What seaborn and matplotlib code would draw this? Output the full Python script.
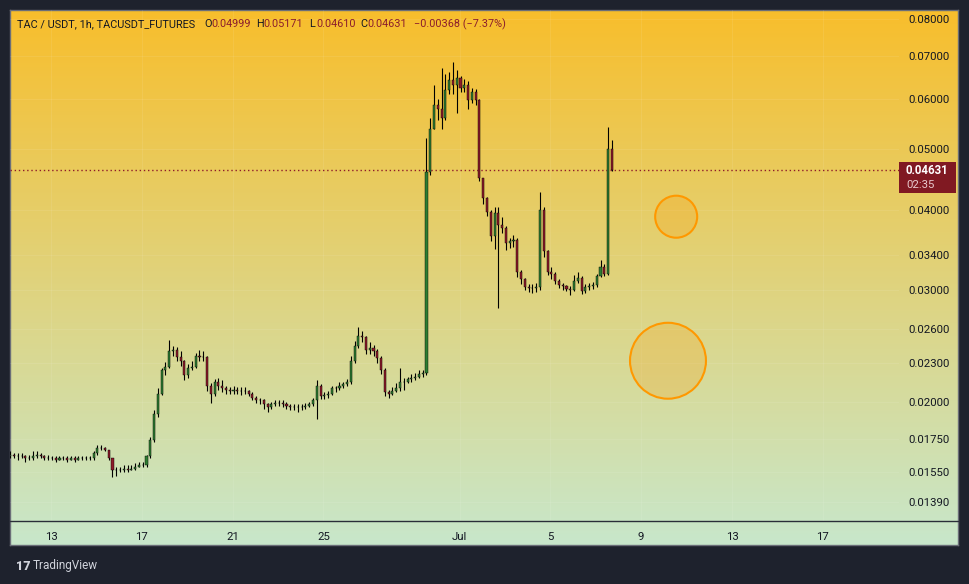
import numpy as np
import pandas as pd
import matplotlib
matplotlib.use("Agg")
import matplotlib.pyplot as plt
import matplotlib.dates as mdates
from matplotlib.patches import Rectangle
from matplotlib.lines import Line2D
import seaborn as sns

# 4h candles (open = previous close)
first_open = 0.0164
closes = [
    0.0165, 0.0164, 0.0164, 0.0164, 0.0163, 0.0163, 0.0164, 0.0165, 0.0164, 0.0163,
    0.0163, 0.0163, 0.0162, 0.0163, 0.0163, 0.0162, 0.0163, 0.0162, 0.0163, 0.0163,
    0.0163, 0.0163, 0.0166, 0.0169, 0.0169, 0.0168, 0.0163, 0.0156, 0.0156, 0.0156,
    0.0157, 0.0156, 0.0157, 0.0158, 0.0159, 0.0159, 0.0164, 0.0174, 0.0191, 0.0206,
    0.0224, 0.0227, 0.0240, 0.0241, 0.0235, 0.0232, 0.0220, 0.0226, 0.0227, 0.0236,
    0.0235, 0.0235, 0.0212, 0.0206, 0.0215, 0.0212, 0.0210, 0.0209, 0.0208, 0.0209,
    0.0208, 0.0208, 0.0208, 0.0206, 0.0203, 0.0201, 0.0201, 0.0198, 0.0196, 0.0198,
    0.0199, 0.0199, 0.0198, 0.0197, 0.0196, 0.0196, 0.0196, 0.0196, 0.0197, 0.0198,
    0.0201, 0.0212, 0.0204, 0.0205, 0.0206, 0.0210, 0.0210, 0.0212, 0.0213, 0.0215,
    0.0232, 0.0245, 0.0254, 0.0253, 0.0241, 0.0243, 0.0240, 0.0234, 0.0224, 0.0207,
    0.0206, 0.0208, 0.0210, 0.0215, 0.0215, 0.0217, 0.0218, 0.0219, 0.0221, 0.0222,
    0.0460, 0.0537, 0.0587, 0.0577, 0.0559, 0.0618, 0.0642, 0.0630, 0.0647, 0.0623,
    0.0630, 0.0597, 0.0615, 0.0597, 0.0450, 0.0419, 0.0398, 0.0364, 0.0396, 0.0379,
    0.0375, 0.0355, 0.0358, 0.0360, 0.0320, 0.0312, 0.0303, 0.0302, 0.0302, 0.0303,
    0.0400, 0.0345, 0.0320, 0.0318, 0.0310, 0.0305, 0.0304, 0.0301, 0.0300, 0.0310,
    0.0313, 0.0299, 0.0303, 0.0304, 0.0305, 0.0315, 0.0326, 0.0318, 0.04999, 0.04631,
]
highs = [
    0.0167, 0.0166, 0.0166, 0.0166, 0.0165, 0.0165, 0.0167, 0.0167, 0.0166, 0.0165,
    0.0165, 0.0164, 0.0164, 0.0164, 0.0164, 0.0164, 0.0164, 0.0164, 0.0164, 0.0164,
    0.0164, 0.0164, 0.0167, 0.0171, 0.0171, 0.0170, 0.0168, 0.0163, 0.0158, 0.0158,
    0.0159, 0.0159, 0.0159, 0.0160, 0.0161, 0.0161, 0.0165, 0.0176, 0.0194, 0.0210,
    0.0226, 0.0231, 0.0250, 0.0245, 0.0244, 0.0240, 0.0233, 0.0229, 0.0232, 0.0239,
    0.0241, 0.0240, 0.0236, 0.0214, 0.0217, 0.0218, 0.0216, 0.0212, 0.0211, 0.0212,
    0.0211, 0.0211, 0.0211, 0.0209, 0.0207, 0.0204, 0.0203, 0.0202, 0.0199, 0.0200,
    0.0201, 0.0201, 0.0201, 0.0200, 0.0198, 0.0198, 0.0198, 0.0198, 0.0199, 0.0200,
    0.0203, 0.0216, 0.0213, 0.0207, 0.0208, 0.0212, 0.0212, 0.0215, 0.0215, 0.0217,
    0.0236, 0.0249, 0.0262, 0.0258, 0.0254, 0.0248, 0.0246, 0.0242, 0.0236, 0.0226,
    0.0209, 0.0211, 0.0214, 0.0226, 0.0218, 0.0219, 0.0221, 0.0222, 0.0224, 0.0224,
    0.0520, 0.0560, 0.0630, 0.0600, 0.0670, 0.0656, 0.0660, 0.0686, 0.0665, 0.0650,
    0.0645, 0.0640, 0.0623, 0.0620, 0.0600, 0.0450, 0.0420, 0.0400, 0.0405, 0.0405,
    0.0390, 0.0378, 0.0362, 0.0366, 0.0362, 0.0322, 0.0313, 0.0306, 0.0306, 0.0307,
    0.0427, 0.0405, 0.0347, 0.0326, 0.0320, 0.0312, 0.0308, 0.0305, 0.0304, 0.0316,
    0.0320, 0.0315, 0.0306, 0.0308, 0.0309, 0.0318, 0.0334, 0.0330, 0.0542, 0.05171,
]
lows = [
    0.0163, 0.0163, 0.0162, 0.0163, 0.0161, 0.0162, 0.0162, 0.0163, 0.0163, 0.0162,
    0.0162, 0.0162, 0.0161, 0.0162, 0.0162, 0.0161, 0.0162, 0.0161, 0.0162, 0.0162,
    0.0162, 0.0162, 0.0162, 0.0165, 0.0168, 0.0167, 0.0162, 0.0152, 0.0153, 0.0155,
    0.0155, 0.0155, 0.0156, 0.0156, 0.0158, 0.0158, 0.0158, 0.0163, 0.0173, 0.0189,
    0.0205, 0.0220, 0.0226, 0.0236, 0.0232, 0.0228, 0.0216, 0.0218, 0.0224, 0.0226,
    0.0232, 0.0232, 0.0208, 0.0199, 0.0204, 0.0209, 0.0207, 0.0206, 0.0206, 0.0206,
    0.0206, 0.0205, 0.0206, 0.0204, 0.0201, 0.0199, 0.0198, 0.0195, 0.0193, 0.0195,
    0.0197, 0.0197, 0.0196, 0.0195, 0.0194, 0.0194, 0.0193, 0.0194, 0.0195, 0.0196,
    0.0197, 0.0188, 0.0202, 0.0202, 0.0203, 0.0205, 0.0207, 0.0209, 0.0210, 0.0212,
    0.0213, 0.0230, 0.0243, 0.0248, 0.0238, 0.0238, 0.0236, 0.0230, 0.0221, 0.0204,
    0.0203, 0.0205, 0.0207, 0.0208, 0.0209, 0.0214, 0.0215, 0.0216, 0.0218, 0.0219,
    0.0220, 0.0455, 0.0537, 0.0555, 0.0537, 0.0555, 0.0610, 0.0610, 0.0570, 0.0615,
    0.0615, 0.0577, 0.0590, 0.0587, 0.0445, 0.0410, 0.0392, 0.0358, 0.0348, 0.0281,
    0.0368, 0.0347, 0.0349, 0.0350, 0.0314, 0.0306, 0.0300, 0.0298, 0.0297, 0.0298,
    0.0300, 0.0338, 0.0317, 0.0312, 0.0306, 0.0302, 0.0300, 0.0299, 0.0294, 0.0299,
    0.0307, 0.0296, 0.0297, 0.0300, 0.0301, 0.0303, 0.0314, 0.0315, 0.0316, 0.0461,
]
first_candle = "2025-06-11 05:00"

price_ticks = [0.08, 0.07, 0.06, 0.05, 0.04, 0.034, 0.03, 0.026, 0.023, 0.02, 0.0175, 0.0155, 0.0139]
price_labels = ["0.08000", "0.07000", "0.06000", "0.05000", "0.04000", "0.03400", "0.03000",
                "0.02600", "0.02300", "0.02000", "0.01750", "0.01550", "0.01390"]
date_ticks = ["2025-06-13", "2025-06-17", "2025-06-21", "2025-06-25", "2025-07-01",
              "2025-07-05", "2025-07-09", "2025-07-13", "2025-07-17"]
date_labels = ["13", "17", "21", "25", "Jul", "5", "9", "13", "17"]

last_price = 0.04631
countdown = "02:35"
header_name = "TAC / USDT, 1h, TACUSDT_FUTURES"
header_ohlc = [("O", "0.04999"), ("H", "0.05171"), ("L", "0.04610"), ("C", "0.04631")]
header_change = "\u22120.00368 (\u22127.37%)"

circle_times = ["2025-07-10 13:00", "2025-07-10 04:20"]
circle_prices = [0.0391, 0.0232]
circle_sizes = [915, 2990]

DARK = "#1e222d"
UP = "#2e7d32"
DOWN = "#8e1b2a"
RED_TXT = "#8b1d2c"

sns.set_style("white")
plt.rcParams["font.family"] = ["Roboto", "DejaVu Sans"]

df = pd.DataFrame({
    "time": pd.date_range(first_candle, periods=len(closes), freq="4h"),
    "close": closes, "high": highs, "low": lows,
})
df["open"] = df["close"].shift(1).fillna(first_open)
df["t"] = mdates.date2num(df["time"])
df["up"] = df["close"] >= df["open"]

W, H = 969, 584
def fx(px):
    return px / W
def fy(py):
    return 1 - py / H

fig = plt.figure(figsize=(W / 100, H / 100), dpi=100, facecolor=DARK)

# gradient panel behind plot + both axes
bg = fig.add_axes([fx(10), fy(545), fx(958) - fx(10), fy(10) - fy(545)])
top = np.array([248, 190, 44]) / 255
bottom = np.array([200, 231, 203]) / 255
g = np.linspace(0, 1, 300)[:, None, None]
bg.imshow(top + (bottom - top) * g, aspect="auto", extent=[0, 1, 0, 1], origin="upper")
bg.set_xticks([])
bg.set_yticks([])
for s in bg.spines.values():
    s.set_color("#6b6e78")
    s.set_linewidth(1)

ax = fig.add_axes([fx(10), fy(521), fx(899) - fx(10), fy(10) - fy(521)])
ax.patch.set_alpha(0)
for s in ax.spines.values():
    s.set_visible(False)

cw = 0.55 / 6
ax.vlines(df["t"], df["low"], df["high"], color="black", lw=0.8, zorder=3)
body_lo = df[["open", "close"]].min(axis=1)
body_h = (df["close"] - df["open"]).abs()
ax.bar(df["t"], body_h, bottom=body_lo, width=cw,
       color=np.where(df["up"], UP, DOWN), edgecolor="black", linewidth=0.3, zorder=4)

ax.axhline(last_price, color=DOWN, ls=(0, (1, 2)), lw=1, zorder=2)

ax.scatter(mdates.date2num(pd.to_datetime(circle_times)), circle_prices, s=circle_sizes,
           facecolor=(1.0, 0.6, 0.0, 0.22), edgecolor="#ff9800", linewidth=1.5, zorder=5)

ax.set_yscale("log")
ax.set_ylim(0.01298, 0.0827)
ax.yaxis.set_minor_locator(matplotlib.ticker.NullLocator())
ax.set_yticks(price_ticks)
ax.set_yticklabels(price_labels)
ax.yaxis.tick_right()
ax.set_xlim(mdates.date2num(pd.Timestamp("2025-06-11 04:40")),
            mdates.date2num(pd.Timestamp("2025-07-20 08:35")))
ax.set_xticks(mdates.date2num(pd.to_datetime(date_ticks)))
ax.set_xticklabels(date_labels)
ax.tick_params(axis="y", length=0, pad=7, labelsize=8.2, labelcolor="#131722")
ax.tick_params(axis="x", length=0, pad=8, labelsize=8.2, labelcolor="#131722")
ax.grid(True, color="white", alpha=0.08, lw=0.8)
ax.set_axisbelow(True)

fig.add_artist(Line2D([fx(10), fx(958)], [fy(521), fy(521)], color="#2a2e39", lw=1))

# last price tag
fig.add_artist(Rectangle((fx(899), fy(193)), fx(956) - fx(899), fy(162) - fy(193),
                         facecolor="#801922", edgecolor="none"))
fig.text(fx(906), fy(171), "0.04631", color="white", fontsize=8.3, fontweight="bold", va="center")
fig.text(fx(906), fy(185), countdown, color="#e9c9cd", fontsize=8.2, va="center")

# legend line
hy = fy(24)
fig.text(fx(17), hy, header_name, color="#131722", fontsize=7.8, va="center")
for (k, v), xk in zip(header_ohlc, [204, 256, 309, 360]):
    fig.text(fx(xk), hy, k, color="#131722", fontsize=7.8, va="center")
    fig.text(fx(xk + 7), hy, v, color=RED_TXT, fontsize=7.8, va="center")
fig.text(fx(414), hy, header_change, color=RED_TXT, fontsize=7.8, va="center")

fig.text(fx(16), fy(566), "17", color="#d1d4dc", fontsize=9, fontweight="heavy", va="center")
fig.text(fx(33), fy(566), "TradingView", color="#d1d4dc", fontsize=8.5, va="center")

fig.savefig("out.png", dpi=100, facecolor=DARK)
